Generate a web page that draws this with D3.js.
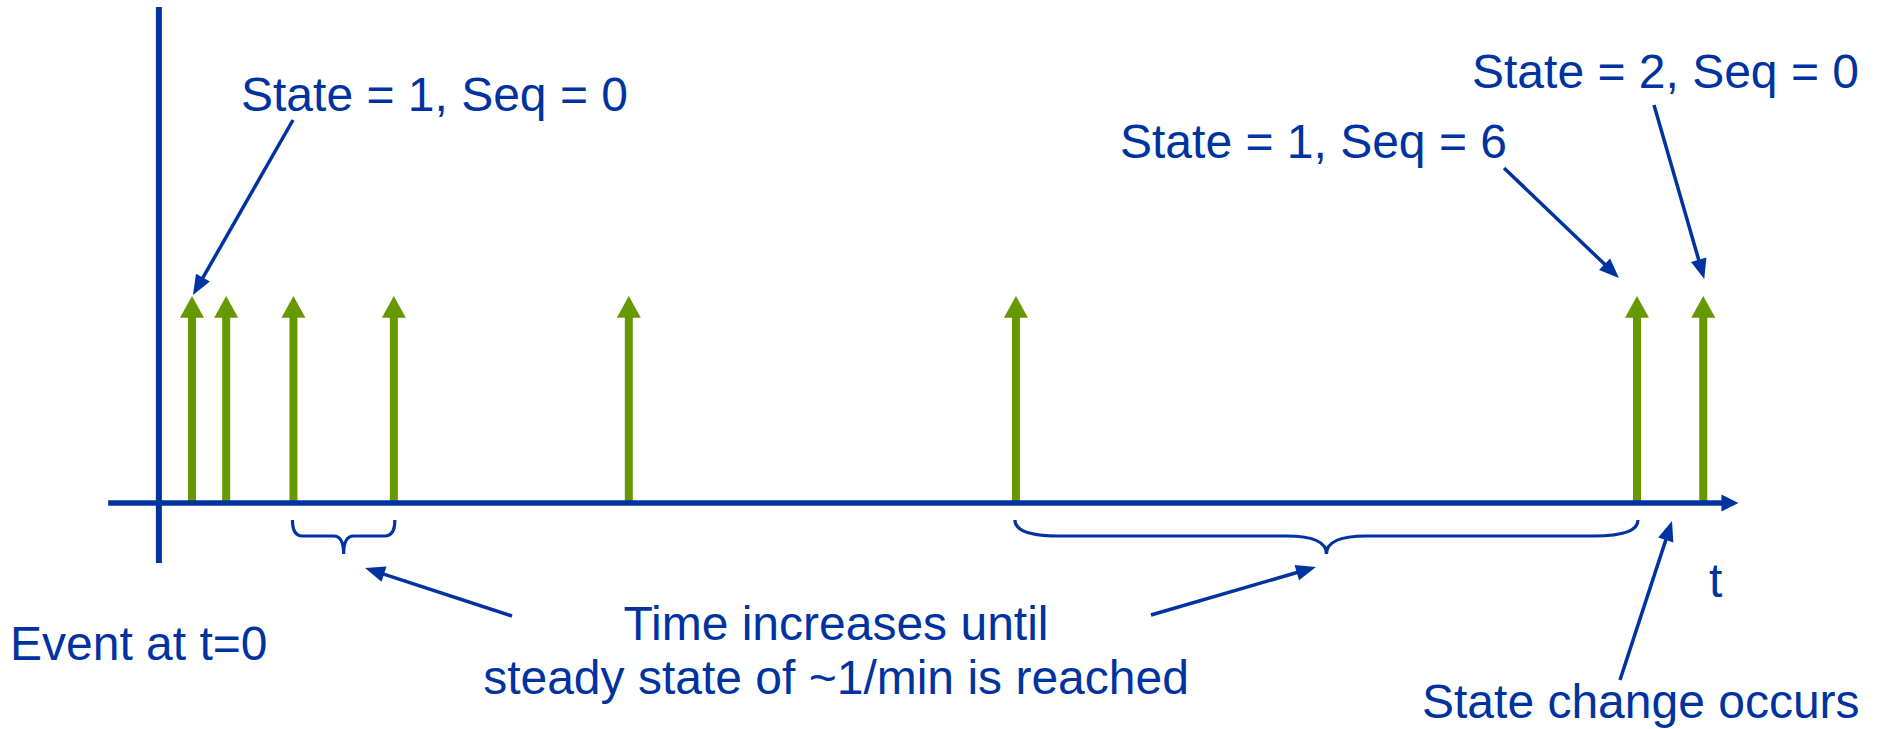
<!DOCTYPE html>
<html>
<head>
<meta charset="utf-8">
<script src="https://cdn.jsdelivr.net/npm/d3@7"></script>
<style>
  html, body { margin: 0; padding: 0; background: #fff; }
  svg { display: block; }
  text { font-family: "Liberation Sans", Arial, sans-serif; fill: #0033a0; }
</style>
</head>
<body>
<div id="chart"></div>
<script>
const width = 1879;
const height = 729;

const blue = '#0033a0';
const green = '#669900';

// event times (seconds after the first event)
const eventTimes = [0, 3.3, 9.8, 19.5, 42.2, 79.6, 139.6, 146.0];
const eventState = [1, 1, 1, 1, 1, 1, 1, 2];
const eventSeq = [0, 1, 2, 3, 4, 5, 6, 0];

// time axis extent
const axisStart = -8.1;
const axisOrigin = -3.2;
const axisEnd = 149.4;

// braces: pairs of event indexes
const braces = [[2, 3], [5, 6]];

const x = d3.scaleLinear().domain([0, 139.6]).range([192, 1637]);
const y = d3.scaleLinear().domain([0, 1]).range([503, 296]);

const svg = d3.select('#chart')
    .append('svg')
    .attr('width', width)
    .attr('height', height)
    .attr('viewBox', `0,0,${width},${height}`);

svg.append('rect').attr('width', width).attr('height', height).attr('fill', '#fff');

// arrow line with filled head
function pointer(x1, y1, x2, y2, len = 20, half = 8, sw = 3.5) {
    const a = Math.atan2(y2 - y1, x2 - x1);
    const bx = x2 - len * Math.cos(a), by = y2 - len * Math.sin(a);
    svg.append('line')
        .attr('x1', x1).attr('y1', y1)
        .attr('x2', bx + 2 * Math.cos(a)).attr('y2', by + 2 * Math.sin(a))
        .attr('stroke', blue).attr('stroke-width', sw);
    const px = -Math.sin(a) * half, py = Math.cos(a) * half;
    svg.append('path')
        .attr('d', `M${x2},${y2}L${bx + px},${by + py}L${bx - px},${by - py}Z`)
        .attr('fill', blue);
}

function brace(x1, x2, r, r2) {
    const y0 = 520, y1 = 536, y2 = 554;
    const xm = (x1 + x2) / 2;
    const d = `M${x1},${y0}Q${x1},${y1} ${x1 + r},${y1}L${xm - r2},${y1}Q${xm},${y1} ${xm},${y2}`
        + `Q${xm},${y1} ${xm + r2},${y1}L${x2 - r},${y1}Q${x2},${y1} ${x2},${y0}`;
    svg.append('path')
        .attr('d', d)
        .attr('fill', 'none')
        .attr('stroke', blue)
        .attr('stroke-width', 3.2);
}

// green event arrows
const ev = svg.append('g').selectAll('g')
    .data(eventTimes)
    .join('g');

ev.append('rect')
    .attr('x', d => x(d) - 4)
    .attr('y', y(0.9))
    .attr('width', 8)
    .attr('height', y(0) - y(0.9));

ev.append('path')
    .attr('d', d => `M${x(d)},${y(1)}L${x(d) + 12},${y(0.895)}L${x(d) - 12},${y(0.895)}Z`);

ev.attr('fill', green);

// axes
svg.append('line')
    .attr('x1', x(axisOrigin)).attr('x2', x(axisOrigin))
    .attr('y1', 7).attr('y2', 563)
    .attr('stroke', blue).attr('stroke-width', 6);

svg.append('line')
    .attr('x1', x(axisStart)).attr('x2', x(axisEnd) - 16)
    .attr('y1', y(0)).attr('y2', y(0))
    .attr('stroke', blue).attr('stroke-width', 5.5);

svg.append('path')
    .attr('d', `M${x(axisEnd)},${y(0)}L${x(axisEnd) - 17},${y(0) - 8.5}L${x(axisEnd) - 17},${y(0) + 8.5}Z`)
    .attr('fill', blue);

// braces
braces.forEach(([a, b], i) => {
    brace(x(eventTimes[a]) - 1, x(eventTimes[b]) + 1, i === 0 ? 10 : 44, i === 0 ? 10 : 40);
});

// labels
const label = (tx, ty, s, anchor = 'start') => svg.append('text')
    .attr('x', tx).attr('y', ty)
    .attr('text-anchor', anchor)
    .style('font-size', '48px')
    .text(s);

label(241, 111, `State = ${eventState[0]}, Seq = ${eventSeq[0]}`);
label(1120, 158, `State = ${eventState[6]}, Seq = ${eventSeq[6]}`);
label(1472, 88, `State = ${eventState[7]}, Seq = ${eventSeq[7]}`);
label(1709, 597, 't');
label(10, 660, 'Event at t=0');
label(836, 640, 'Time increases until', 'middle');
label(836, 694, 'steady state of ~1/min is reached', 'middle');
label(1422, 718, 'State change occurs');

// annotation pointers
pointer(293, 120, x(eventTimes[0]) + 1, y(1) - 1);
pointer(1504, 168, x(eventTimes[6]) - 18, 278);
pointer(1654, 105, x(eventTimes[7]) + 1, 279);
pointer(512, 616, 365, 568);
pointer(1151, 615, 1316, 567);
pointer(1620, 680, 1672, 521);
</script>
</body>
</html>
